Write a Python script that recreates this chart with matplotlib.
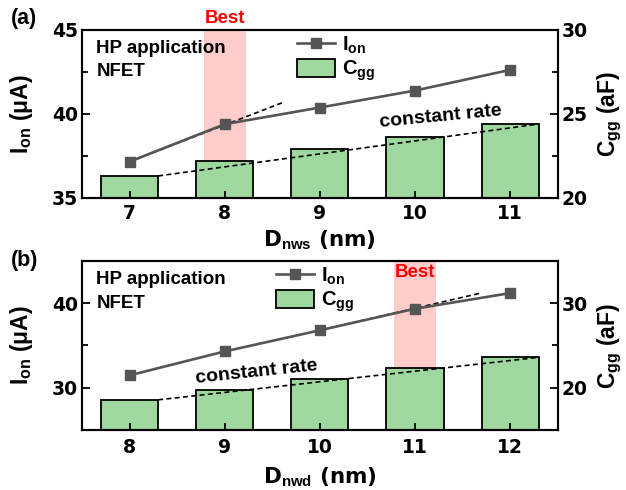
import matplotlib
matplotlib.use("Agg")
import matplotlib.pyplot as plt
from matplotlib.lines import Line2D
from matplotlib.patches import Patch

plt.rcParams['font.family'] = ['Liberation Sans', 'DejaVu Sans']
plt.rcParams['font.weight'] = 'bold'
plt.rcParams['mathtext.fontset'] = 'custom'
plt.rcParams['mathtext.rm'] = 'Liberation Sans:bold'
plt.rcParams['mathtext.bf'] = 'Liberation Sans:bold'
plt.rcParams['mathtext.it'] = 'Liberation Sans:bold'
plt.rcParams['axes.linewidth'] = 1.5

WIDE = ['DejaVu Sans']

# ---------- data ----------
dnws = [7, 8, 9, 10, 11]
ion_a = [37.16, 39.39, 40.38, 41.39, 42.62]
cgg_a = [21.31, 22.2, 22.92, 23.65, 24.4]
ion_trend_a_x = [7, 8.62]
ion_trend_a_y = [37.16, 40.7]
cgg_trend_a_x = [7.3, 11.3]
cgg_trend_a_y = [21.31, 24.4]
best_a = [7.78, 8.22]

dnwd = [8, 9, 10, 11, 12]
ion_b = [31.47, 34.3, 36.8, 39.35, 41.2]
cgg_b = [18.57, 19.75, 21.0, 22.33, 23.63]
ion_trend_b_x = [10, 11.69]
ion_trend_b_y = [36.8, 41.2]
cgg_trend_b_x = [8.3, 12.3]
cgg_trend_b_y = [18.57, 23.6]
best_b = [10.78, 11.22]

LINE_C = '#555555'
BAR_C = '#9fd89f'
BAND_C = '#ffcccc'

fig = plt.figure(figsize=(6.26, 4.9), dpi=100)
axA = fig.add_axes([0.131, 0.596, 0.760, 0.343])
axB = fig.add_axes([0.131, 0.1224, 0.760, 0.345])

def panel(ax, x, ion, cgg, itx, ity, ctx, cty, best, xlim, ylim, ylim2,
          yticks, yminor, y2ticks, y2minor, xlabel, leg_x, best_inside,
          cr_xy, cr_rot, letter, letter_y, xlab_y, xpad):
    ax2 = ax.twinx()
    ax.set_zorder(ax2.get_zorder() + 1)
    ax.patch.set_visible(False)
    ax2.axvspan(best[0], best[1], color=BAND_C, zorder=0, lw=0)
    ax2.bar(x, cgg, width=0.6, color=BAR_C, edgecolor='black', linewidth=1.3, zorder=2)
    ax2.plot(ctx, cty, ls=(0, (3, 2)), color='black', lw=1.2, zorder=3)
    ax.plot(itx, ity, ls=(0, (3, 2)), color='black', lw=1.2, zorder=4)
    ax.plot(x, ion, color=LINE_C, lw=1.9, marker='s', ms=7.5, mfc=LINE_C, mec=LINE_C, zorder=5)
    ax.set_xlim(*xlim)
    ax.set_ylim(*ylim)
    ax2.set_ylim(*ylim2)
    ax.set_xticks(x)
    ax.set_xticklabels([str(v) for v in x])
    ax.set_yticks(yticks)
    ax.set_yticks(yminor, minor=True)
    ax2.set_yticks(y2ticks)
    ax2.set_yticks(y2minor, minor=True)
    for a in (ax, ax2):
        a.tick_params(which='major', direction='in', length=6, width=1.3, labelsize=13.5)
        a.tick_params(which='minor', direction='in', length=4, width=1.3)
    ax.tick_params(axis='x', which='major', length=5, pad=xpad)
    ax.tick_params(axis='y', which='major', pad=3)
    ax2.tick_params(axis='y', which='major', pad=3)
    for lab in ax.get_xticklabels() + ax.get_yticklabels() + ax2.get_yticklabels():
        lab.set_fontweight('bold')
        lab.set_family(WIDE)
    ax.set_xlabel(xlabel, fontsize=15.5, fontweight='bold', family=WIDE)
    ax.xaxis.set_label_coords(0.5, xlab_y)
    ax.set_ylabel(r'I$_{\mathrm{on}}$ (μA)', fontsize=16.5, fontweight='bold')
    ax.yaxis.set_label_coords(-0.098, 0.5)
    ax2.set_ylabel(r'C$_{\mathrm{gg}}$ (aF)', fontsize=16.5, fontweight='bold')
    ax2.yaxis.set_label_coords(1.08, 0.5)
    ax.text(0.03, 0.89, 'HP application', transform=ax.transAxes, fontsize=13.5,
            fontweight='bold', va='center', ha='left')
    ax.text(0.03, 0.75, 'NFET', transform=ax.transAxes, fontsize=13.5,
            fontweight='bold', va='center', ha='left')
    handles = [Line2D([0], [0], color=LINE_C, lw=1.9, marker='s', ms=7.5),
               Patch(facecolor=BAR_C, edgecolor='black', linewidth=1.3)]
    ax.legend(handles, [r'I$_{\mathrm{on}}$', r'C$_{\mathrm{gg}}$'],
              loc='upper left', bbox_to_anchor=(leg_x, 1.02), frameon=False,
              fontsize=14.5, handlelength=1.9, handleheight=1.0,
              handletextpad=0.35, labelspacing=0.15, borderaxespad=0)
    bx = (best[0] + best[1]) / 2
    by = 0.93 if best_inside else 1.07
    ax.text(bx, by, 'Best', transform=ax.get_xaxis_transform(), color='red',
            fontsize=13.5, fontweight='bold', ha='center', va='center')
    ax.text(cr_xy[0], cr_xy[1], 'constant rate', fontsize=14, fontweight='bold',
            ha='center', va='center', rotation=cr_rot, rotation_mode='anchor')
    fig.text(0.018, letter_y, letter, fontsize=15.5, fontweight='bold',
             ha='left', va='center')

panel(axA, dnws, ion_a, cgg_a, ion_trend_a_x, ion_trend_a_y, cgg_trend_a_x, cgg_trend_a_y,
      best_a, (6.5, 11.5), (35, 45), (20, 30), [35, 40, 45], [37.5, 42.5],
      [20, 25, 30], [22.5, 27.5], r'D$_{\mathrm{nws}}$ (nm)', 0.435, False,
      (10.27, 39.82), 5.5, '(a)', 0.963, -0.18, 4)
panel(axB, dnwd, ion_b, cgg_b, ion_trend_b_x, ion_trend_b_y, cgg_trend_b_x, cgg_trend_b_y,
      best_b, (7.5, 12.5), (25, 45), (15, 35), [30, 40], [35],
      [20, 30], [25], r'D$_{\mathrm{nwd}}$ (nm)', 0.39, True,
      (9.33, 31.8), 6, '(b)', 0.469, -0.21, 6)

fig.savefig('out.png', dpi=100)
